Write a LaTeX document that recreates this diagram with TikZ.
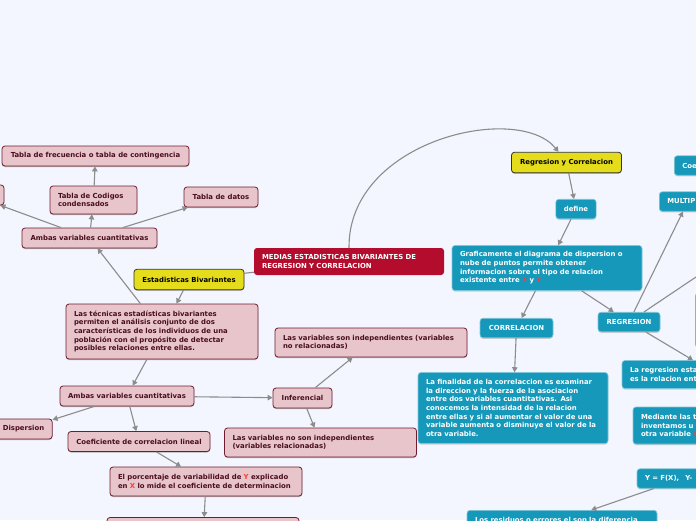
\documentclass[tikz,border=0pt]{standalone}
\usepackage{fontspec}
\setmainfont{DejaVu Sans}
\usepackage{tikz}
\usepackage{xcolor}
\usetikzlibrary{arrows.meta,shadows}
\definecolor{mapbg}{HTML}{F3F6FE}
\definecolor{rosefill}{HTML}{E7C5CA}
\definecolor{roseline}{HTML}{6E1D31}
\definecolor{rosetext}{HTML}{4A0E1D}
\definecolor{topicred}{HTML}{B30C2C}
\definecolor{mapyellow}{HTML}{E5DC1C}
\definecolor{mapteal}{HTML}{1598BA}
\definecolor{linkgray}{HTML}{8C8C8C}
\definecolor{hilite}{HTML}{FF3B3B}
\newcommand{\mapfont}{\fontsize{6.9}{8.6}\selectfont\bfseries}
\tikzset{
  rosebox/.style={
    draw=roseline,
    line width=0.8pt,
    fill=rosefill,
    text=rosetext,
    rounded corners=3pt,
    font=\mapfont,
    inner xsep=8pt,
    inner ysep=3pt,
    minimum height=20pt,
    general shadow={fill=black!30, shadow yshift=-1pt}
  },
  yellowbox/.style={
    draw=black!80,
    line width=0.8pt,
    fill=mapyellow,
    text=black,
    rounded corners=3pt,
    font=\mapfont,
    inner xsep=8pt,
    minimum height=20.5pt,
    general shadow={fill=black!30, shadow yshift=-1pt}
  },
  topicbox/.style={
    fill=topicred,
    text=white,
    rounded corners=3pt,
    font=\mapfont,
    inner xsep=8pt,
    inner ysep=3pt
  },
  tealbox/.style={
    draw=mapteal!55!white,
    line width=0.6pt,
    fill=mapteal,
    text=white,
    rounded corners=3pt,
    font=\mapfont,
    inner xsep=8pt,
    inner ysep=3pt,
    minimum height=19.5pt,
    general shadow={fill=black!20, shadow yshift=-1pt}
  },
  maplink/.style={-{Triangle[length=5pt,width=5.5pt]}, line width=1.1pt, draw=linkgray},
  topiclink/.style={line width=1.1pt, draw=linkgray}
}

\begin{document}
\begin{tikzpicture}[x=1pt, y=-1pt]
\useasboundingbox (0,0) rectangle (696,520);
\clip (0,0) rectangle (696,520);
\fill[mapbg] (0,0) rectangle (696,520);

\node[rosebox, minimum width=187pt] (frecuencia) at (95.5,156) {Tabla de frecuencia o tabla de contingencia};
\node[rosebox, minimum width=64pt] (oculta) at (-28,195) {};
\node[rosebox, text width=71pt, align=left, minimum height=28pt] (codigos) at (93.5,200) {Tabla de Codigos\\condensados};
\node[rosebox, minimum width=74pt] (datos) at (221,197) {Tabla de datos};
\node[rosebox, minimum width=135pt] (ambasA) at (89.5,238) {Ambas variables cuantitativas};
\node[yellowbox, minimum width=110pt] (bivariantes) at (189,279.5) {Estadisticas Bivariantes};
\node[rosebox, text width=176pt, align=left, minimum height=55pt] (tecnicas) at (162,331.5) {Las técnicas estadísticas bivariantes\\permiten el análisis conjunto de dos\\características de los individuos de una\\población con el propósito de detectar\\posibles relaciones entre ellas.};
\node[rosebox, minimum width=134pt] (ambasB) at (127,396) {Ambas variables cuantitativas};
\node[rosebox, minimum width=57pt] (dispersion) at (23.5,429) {Dispersion};
\node[rosebox, minimum width=142pt] (coeficiente) at (139,441.5) {Coeficiente de correlacion lineal};
\node[rosebox, text width=176pt, align=left, minimum height=29pt] (porcentaje) at (206,481.5) {El porcentaje de variabilidad de \textcolor{hilite}{Y} explicado\\en \textcolor{hilite}{X} lo mide el coeficiente de determinacion};
\node[rosebox, minimum width=192pt, minimum height=45pt] (determinacion) at (203,540) {};
\node[rosebox, text width=176pt, align=left, minimum height=29pt] (independientes) at (371,342.5) {Las variables son independientes (variables\\no relacionadas)};
\node[rosebox, minimum width=59pt] (inferencial) at (302.5,398) {Inferencial};
\node[rosebox, text width=176pt, align=left, minimum height=29pt] (relacionadas) at (320.5,442.5) {Las variables no son independientes\\(variables relacionadas)};

\node[topicbox, text width=174pt, align=left, minimum height=27pt] (medias) at (349,261.5) {MEDIAS ESTADISTICAS BIVARIANTES DE\\REGRESION Y CORRELACION};

\node[yellowbox, minimum width=110pt] (regcor) at (566.5,162.5) {Regresion y Correlacion};
\node[tealbox, minimum width=40pt] (define) at (576,209) {define};
\node[tealbox, text width=174pt, align=left, minimum height=45pt] (grafica) at (547,268) {Graficamente el diagrama de dispersion o\\nube de puntos permite obtener\\informacion sobre el tipo de relacion\\existente entre \textcolor{hilite}{X} y \textcolor{hilite}{Y}};
\node[tealbox, minimum width=73pt] (correlacion) at (516.5,328) {CORRELACION};
\node[tealbox, minimum width=62pt] (regresion) at (629,322) {REGRESION};
\node[tealbox, text width=174pt, align=left, minimum height=71pt] (finalidad) at (513,408) {La finalidad de la correlaccion es examinar\\la direccion y la fuerza de la asociacion\\entre dos variables cuantitativas. Asi\\conocemos la intensidad de la relacion\\entre ellas y si al aumentar el valor de una\\variable aumenta o disminuye el valor de la\\otra variable.};
\node[tealbox, anchor=west, text width=44pt, align=left] (coe) at (674,165.5) {Coe};
\node[tealbox, anchor=west, text width=41pt, align=left] (multiple) at (659,201.5) {MULTIP};
\node[tealbox, anchor=west, minimum width=60pt, minimum height=54pt] (lateral) at (695,320) {};
\node[tealbox, text width=174pt, align=left, minimum height=28pt] (estadistica) at (717,374.5) {La regresion esta\\es la relacion ent};
\node[tealbox, text width=174pt, align=left, minimum height=37pt] (mediante) at (728,425.5) {Mediante las t\\inventamos u\\otra variable \textcolor{hilite}{X}};
\node[tealbox, text width=76pt, align=left] (funcion) at (683,478.5) {Y = F(X),\hspace{6pt}Y-};
\node[tealbox, anchor=north, text width=174pt, align=left, inner ysep=5pt] (residuos) at (562,510) {Los residuos o errores el son la diferencia};

\draw[maplink] (ambasA) -- (codigos);
\draw[maplink] (ambasA) -- (datos);
\draw[maplink] (ambasA) -- (oculta);
\draw[maplink] (codigos) -- (frecuencia);
\draw[maplink] (tecnicas) -- (ambasA);
\draw[maplink] (bivariantes) -- (tecnicas);
\draw[topiclink] (medias) -- (bivariantes);
\draw[maplink] (medias.north) .. controls (348,140) and (518,102) .. ([xshift=-8pt]regcor.north);
\draw[maplink] (regcor) -- (define);
\draw[maplink] (define) -- (grafica);
\draw[maplink] (grafica) -- (correlacion);
\draw[maplink] (grafica) -- (regresion);
\draw[maplink] (correlacion) -- (finalidad);
\draw[maplink] (regresion) -- (multiple);
\draw[maplink] (regresion) -- (estadistica);
\coordinate (fuera) at (763,232);
\draw[topiclink] (regresion) -- (fuera);
\draw[maplink] (funcion) -- (residuos);
\draw[maplink] (tecnicas) -- (ambasB);
\draw[maplink] (ambasB) -- (dispersion);
\draw[maplink] (ambasB) -- (coeficiente);
\draw[maplink] (ambasB) -- (inferencial);
\draw[maplink] (inferencial) -- (independientes);
\draw[maplink] (inferencial) -- (relacionadas);
\draw[maplink] (coeficiente) -- (porcentaje);
\draw[maplink] (porcentaje) -- (determinacion);
\end{tikzpicture}
\end{document}
